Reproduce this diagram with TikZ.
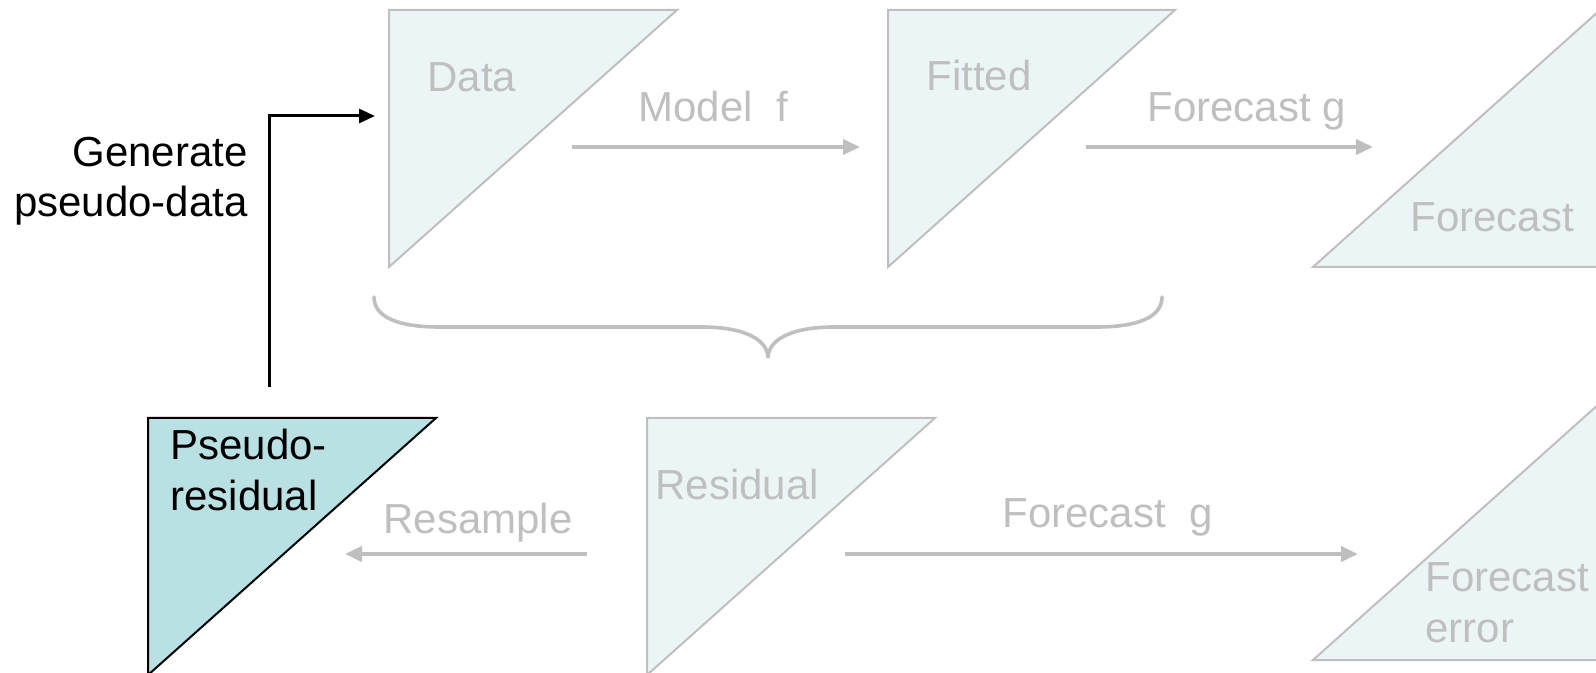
\documentclass[tikz,border=0pt]{standalone}
\usepackage{fontspec}
\setmainfont{Liberation Sans}
\usetikzlibrary{arrows.meta}
\definecolor{lightfill}{HTML}{ECF5F6}
\definecolor{darkfill}{HTML}{B9E0E3}
\definecolor{greyc}{HTML}{BFBFBF}
\begin{document}
\begin{tikzpicture}[x=0.5pt,y=-0.5pt,
  tri/.style={draw=greyc, fill=lightfill, line width=1pt},
  tridark/.style={draw=black, fill=darkfill, line width=1pt},
  lbl/.style={font=\fontsize{21}{25.5}\selectfont, inner sep=0pt, text=greyc, align=left},
  blk/.style={font=\fontsize{21}{25}\selectfont, inner sep=0pt, text=black},
  garrow/.style={draw=greyc, line width=2pt, -{Triangle[length=8.5pt,width=7.5pt]}},
  barrow/.style={draw=black, line width=1.5pt, -{Triangle[length=8pt,width=7pt]}},
  bracestyle/.style={draw=greyc, line width=1.8pt, line cap=round}
]
\useasboundingbox (0,0) rectangle (1596,673);
\begin{scope}
\clip (0,0) rectangle (1596,673);
% triangles
\draw[tri] (389,10) -- (677,10) -- (389,267) -- cycle;
\draw[tri] (888,10) -- (1175,10) -- (888,267) -- cycle;
\draw[tri] (1313,267) -- (1600,10) -- (1600,267) -- cycle;
\draw[tridark] (148,418) -- (436,418) -- (148,675) -- cycle;
\draw[tri] (647,418) -- (935,418) -- (647,675) -- cycle;
\draw[tri] (1313,660) -- (1600,403) -- (1600,660) -- cycle;
\end{scope}
% texts
\node[lbl, anchor=base west] (data) at (427,92) {Data};
\node[lbl, anchor=base west] (fitted) at (926,91) {Fitted};
\node[lbl, anchor=base west] (fc) at (1410,232) {Forecast};
\node[lbl, anchor=base west] (modelf) at (638,122) {Model~~f};
\node[lbl, anchor=base west] (fcg) at (1147,122) {Forecast g};
\node[blk, anchor=base east, align=right] (gen) at (248,217) {Generate\\pseudo-data};
\node[blk, anchor=base west, align=left] (pres) at (170,510) {Pseudo-\\residual};
\node[lbl, anchor=base west] (resample) at (383,533) {Resample};
\node[lbl, anchor=base west] (resid) at (655,500) {Residual};
\node[lbl, anchor=base west] (fcg2) at (1002,528) {Forecast~~g};
\node[lbl, anchor=base west] (fcerr) at (1425,642) {Forecast\\error};
% arrow end points
\coordinate (m1) at (572,147);
\coordinate (m2) at (860,147);
\coordinate (f1) at (1086,147);
\coordinate (f2) at (1373,147);
\coordinate (r1) at (587,554);
\coordinate (r2) at (345,554);
\coordinate (g1) at (845,554);
\coordinate (g2) at (1358,554);
\coordinate (b1) at (269,387);
\coordinate (b2) at (375,116);
% connectors
\draw[garrow] (m1) -- (m2);
\draw[garrow] (f1) -- (f2);
\draw[garrow] (r1) -- (r2);
\draw[garrow] (g1) -- (g2);
\draw[barrow] (b1) |- (b2);
% brace
\draw[bracestyle] (374,297) .. controls (374,318) and (400,327) .. (439,327)
  -- (702,327) .. controls (745,327) and (768,340) .. (768,358)
  .. controls (768,340) and (791,327) .. (834,327)
  -- (1097,327) .. controls (1136,327) and (1162,318) .. (1162,297);
\end{tikzpicture}
\end{document}
